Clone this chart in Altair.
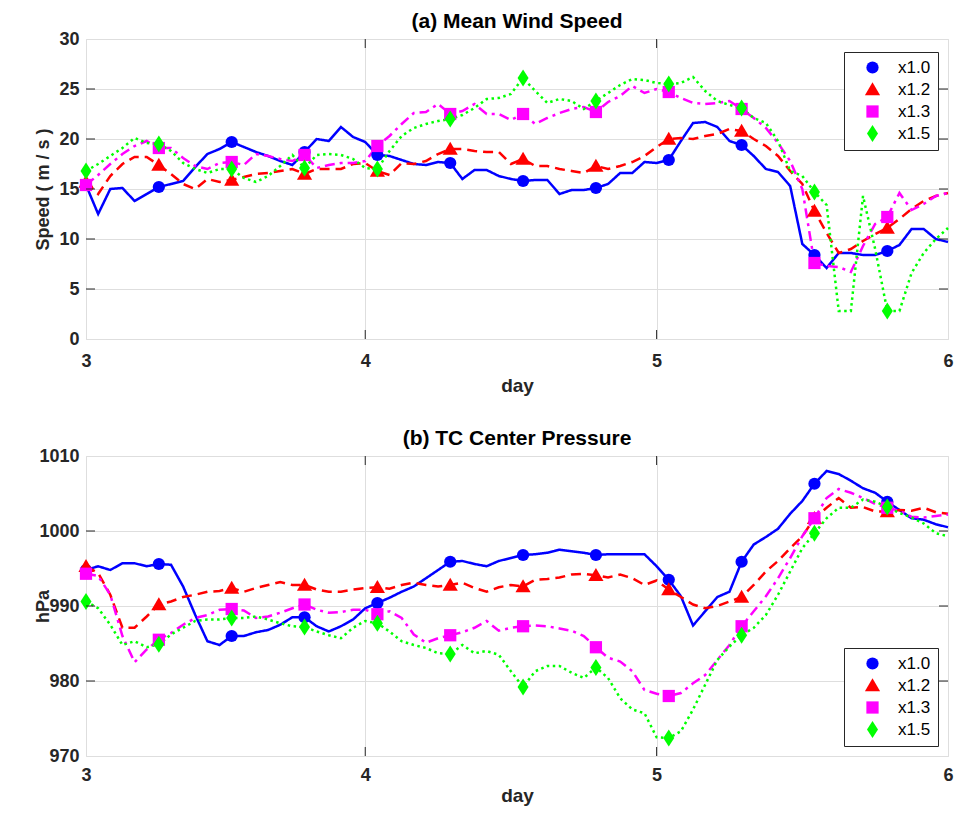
import altair as alt
import pandas as pd

# ---------------- data ----------------
HOURS = list(range(73, 145))          # hourly output, hour 73 .. 144 (day = hour / 24)
SERIES = ["x1.0", "x1.2", "x1.3", "x1.5"]
COLORS = ["#0000ff", "#ff0000", "#ff00ff", "#00ff00"]
SHAPES = ["circle", "M0,-1.2L1.24,0.95L-1.24,0.95Z", "square", "M0,-1.4L0.9,0L0,1.4L-0.9,0Z"]
DASHES = [[1, 0], [10, 6], [10, 5, 3, 5], [2.5, 3.5]]
MARK_EVERY = 6

X_TICKS = [73 / 24, 4, 5, 6]
WS_TICKS = [0, 5, 10, 15, 20, 25, 30]
PR_TICKS = [970, 980, 990, 1000, 1010]

# (a) mean wind speed (m/s)
WS_10 = [15.4, 12.5, 15.0, 15.1, 13.8, 14.5, 15.2, 15.5, 15.8, 17.2, 18.5, 19.0,
         19.7, 19.2, 18.7, 18.3, 17.8, 17.4, 18.7, 20.0, 19.8, 21.2, 20.2, 19.7,
         18.4, 18.3, 17.9, 17.5, 17.4, 17.7, 17.6, 16.0, 16.9, 16.9, 16.3, 16.0,
         15.8, 15.9, 15.9, 14.5, 14.9, 14.9, 15.1, 15.5, 16.6, 16.6, 17.7, 17.6,
         17.9, 19.8, 21.6, 21.7, 21.2, 19.8, 19.4, 18.3, 17.0, 16.7, 15.3, 9.5,
         8.4, 7.1, 8.6, 8.6, 8.4, 8.4, 8.8, 9.4, 11.0, 11.0, 10.0, 9.7]
WS_12 = [15.7, 14.5, 16.3, 17.5, 18.2, 18.2, 17.4, 16.5, 15.5, 15.0, 16.0, 15.7,
         15.9, 16.2, 16.5, 16.6, 16.8, 17.0, 16.5, 17.0, 17.0, 17.0, 17.5, 17.6,
         16.8, 16.4, 17.6, 17.5, 17.8, 18.5, 19.0, 19.0, 18.8, 18.7, 18.7, 17.5,
         18.0, 17.3, 17.3, 17.0, 16.8, 16.6, 17.3, 17.0, 17.3, 17.7, 18.3, 19.2,
         20.0, 20.1, 20.0, 20.3, 20.5, 21.0, 20.8, 20.0, 19.3, 18.3, 16.8, 15.5,
         12.8, 10.6, 8.6, 9.0, 9.8, 10.5, 11.1, 12.0, 13.0, 13.8, 14.3, 14.6]
WS_13 = [15.4, 16.4, 17.5, 18.5, 19.3, 19.8, 19.1, 19.1, 18.1, 17.3, 17.0, 17.6,
         17.7, 17.4, 18.5, 18.3, 18.0, 17.8, 18.4, 17.1, 17.4, 17.6, 17.6, 17.8,
         19.3, 20.3, 21.5, 22.6, 22.7, 23.5, 22.5, 22.8, 23.5, 22.5, 22.5, 21.9,
         22.5, 21.5, 22.1, 22.6, 23.0, 23.2, 22.7, 23.7, 24.3, 25.3, 24.6, 25.0,
         24.7, 24.1, 23.6, 23.5, 23.6, 23.8, 23.0, 22.1, 21.1, 19.6, 17.8, 15.0,
         7.6, 7.3, 7.2, 6.7, 9.3, 11.5, 12.2, 14.6, 12.9, 13.5, 14.3, 14.6]
WS_15 = [16.8, 17.5, 18.3, 19.1, 20.1, 19.6, 19.5, 18.8, 17.6, 17.0, 16.6, 17.0,
         17.0, 16.1, 15.7, 16.3, 17.3, 18.4, 17.1, 18.4, 18.5, 18.4, 18.0, 17.1,
         17.0, 18.8, 20.3, 21.1, 21.5, 21.8, 22.0, 22.4, 23.1, 24.0, 24.1, 24.5,
         26.1, 24.8, 23.6, 24.0, 23.8, 23.0, 23.8, 24.6, 25.4, 26.0, 25.9, 25.6,
         25.5, 25.6, 26.2, 24.8, 23.8, 23.4, 23.1, 22.1, 21.6, 19.8, 16.8, 16.3,
         14.7, 13.4, 2.8, 2.8, 14.3, 9.0, 2.8, 2.8, 6.6, 8.6, 10.0, 11.1]

# (b) TC center pressure (hPa)
PR_10 = [994.8, 995.3, 994.8, 995.7, 995.7, 995.3, 995.6, 995.5, 992.6, 988.8, 985.3, 984.8,
         986.0, 986.0, 986.5, 986.8, 987.5, 988.5, 988.5, 987.3, 986.6, 987.3, 988.2, 989.7,
         990.4, 991.1, 991.9, 992.6, 993.7, 994.8, 995.9, 996.0, 995.6, 995.3, 996.0, 996.4,
         996.8, 996.9, 997.1, 997.5, 997.3, 997.1, 996.8, 996.9, 996.9, 996.9, 996.9, 995.3,
         993.5, 991.3, 987.4, 989.3, 991.2, 991.9, 995.9, 998.2, 999.2, 1000.3, 1002.3, 1004.0,
         1006.3, 1008.0, 1007.6, 1006.7, 1005.7, 1005.1, 1003.9, 1002.8, 1001.7, 1001.5, 1000.9, 1000.5]
PR_12 = [995.3, 994.4, 991.5, 987.1, 987.1, 988.6, 990.2, 990.6, 991.2, 991.5, 991.9, 992.0,
         992.4, 991.9, 992.4, 992.8, 993.2, 992.8, 992.8, 992.2, 991.9, 991.9, 992.2, 992.4,
         992.5, 992.3, 992.8, 993.1, 992.8, 992.6, 992.8, 993.1, 992.4, 991.9, 992.5, 992.8,
         992.6, 993.5, 993.6, 993.8, 994.2, 994.3, 994.1, 993.8, 994.2, 993.7, 992.8, 993.4,
         992.2, 991.2, 990.2, 989.7, 990.0, 990.6, 991.2, 992.8, 994.6, 996.0, 997.7, 999.3,
         1001.7, 1003.1, 1004.4, 1003.1, 1003.2, 1002.6, 1002.6, 1002.8, 1002.7, 1003.1, 1002.5, 1002.3]
PR_13 = [994.3, 994.0, 991.5, 986.0, 982.5, 984.2, 985.5, 986.4, 987.5, 988.4, 988.8, 989.5,
         989.6, 989.4, 988.4, 988.6, 989.1, 989.7, 990.2, 989.5, 989.1, 989.2, 989.5, 989.5,
         988.9, 989.3, 988.4, 986.2, 985.1, 985.7, 986.1, 986.5, 987.1, 988.0, 986.7, 987.1,
         987.3, 987.4, 987.3, 987.0, 986.7, 986.0, 984.5, 983.1, 982.6, 981.3, 978.8, 978.3,
         978.0, 978.4, 979.7, 980.8, 982.8, 984.8, 987.3, 989.3, 991.3, 993.7, 996.4, 999.3,
         1001.7, 1004.4, 1005.6, 1005.1, 1004.4, 1003.6, 1003.1, 1002.7, 1001.9, 1001.8, 1002.0, 1002.2]
PR_15 = [990.6, 989.7, 987.5, 984.8, 985.3, 984.5, 984.9, 986.2, 987.1, 988.0, 988.2, 988.2,
         988.4, 988.4, 988.6, 988.2, 987.7, 987.3, 987.2, 986.6, 986.1, 985.7, 987.1, 988.0,
         987.7, 986.6, 985.3, 984.8, 984.4, 983.7, 983.6, 984.8, 983.7, 984.0, 983.5, 981.3,
         979.2, 981.3, 982.0, 982.0, 981.1, 980.4, 981.8, 980.4, 977.7, 976.2, 975.7, 972.5,
         972.4, 973.3, 976.2, 979.5, 982.8, 984.6, 986.1, 987.1, 988.8, 991.5, 994.6, 997.7,
         999.7, 1001.7, 1003.1, 1003.1, 1004.2, 1003.9, 1003.2, 1002.4, 1001.8, 1001.0, 999.7, 999.3]

# ---------------- style ----------------
FONT = "Liberation Sans"
INK = "#262626"
GRID = "#dedede"
W, H = 862, 300
MSIZE = 150


def long_table(series_values):
    rows = []
    for name, vals in zip(SERIES, series_values):
        for i, (h, v) in enumerate(zip(HOURS, vals)):
            rows.append({"day": h / 24, "value": v, "series": name,
                         "marker": i % MARK_EVERY == 0})
    return pd.DataFrame(rows)


def panel(df, ylo, yhi, yticks, ytitle, title, legend_y, label_pad, title_pad):
    xscale = alt.Scale(domain=[73 / 24, 6], nice=False, zero=False)
    yscale = alt.Scale(domain=[ylo, yhi], nice=False, zero=False)
    xaxis = alt.Axis(values=X_TICKS,
                     labelExpr="datum.value < 3.5 ? '3' : format(datum.value, 'd')",
                     title="day", grid=True, gridColor=GRID, domain=False, ticks=False,
                     labelFlush=False, labelPadding=label_pad, titlePadding=title_pad,
                     labelFontSize=18, titleFontSize=19, labelFontWeight="bold",
                     titleFontWeight="bold", labelColor=INK, titleColor=INK,
                     labelFont=FONT, titleFont=FONT)
    yaxis = alt.Axis(values=yticks, format="d", title=ytitle, grid=True, gridColor=GRID,
                     domain=False, ticks=False, labelPadding=7,
                     titleX=-34, titleY=H / 2,
                     labelFontSize=18, titleFontSize=18, labelFontWeight="bold",
                     titleFontWeight="bold", labelColor=INK, titleColor=INK,
                     labelFont=FONT, titleFont=FONT)
    X = alt.X("day:Q", scale=xscale, axis=xaxis)
    Y = alt.Y("value:Q", scale=yscale, axis=yaxis)

    legend = alt.Legend(orient="none", legendX=W - 104, legendY=legend_y, title=None,
                        fillColor="white", strokeColor=INK, padding=7,
                        symbolOffset=13, labelOffset=17, rowPadding=4,
                        symbolSize=MSIZE, symbolStrokeWidth=0,
                        labelFontSize=17, labelFont=FONT, labelColor="#000000")

    # one line layer per run (constant colour / dash, no legend)
    line_layers = [
        alt.Chart(df).transform_filter(alt.datum.series == name).mark_line(
            color=col, strokeDash=dash, strokeWidth=2.5).encode(x=X, y=Y)
        for name, col, dash in zip(SERIES, COLORS, DASHES)
    ]
    marks_df = df[df["marker"]].drop(columns=["marker"])
    points = alt.Chart(marks_df).mark_point(
        filled=True, opacity=1, strokeWidth=0, size=MSIZE).encode(
        x=X, y=Y,
        color=alt.Color("series:N", scale=alt.Scale(domain=SERIES, range=COLORS),
                        legend=legend),
        shape=alt.Shape("series:N", scale=alt.Scale(domain=SERIES, range=SHAPES),
                        legend=legend),
    )

    xt = pd.DataFrame({"day": X_TICKS[1:-1]})
    yt = pd.DataFrame({"value": yticks[1:-1]})
    tick_b = alt.Chart(xt).mark_rule(color=INK, strokeWidth=1).encode(
        x=X, y=alt.value(H), y2=alt.value(H - 9))
    tick_t = alt.Chart(xt).mark_rule(color=INK, strokeWidth=1).encode(
        x=X, y=alt.value(0), y2=alt.value(9))
    tick_l = alt.Chart(yt).mark_rule(color=INK, strokeWidth=1).encode(
        y=Y, x=alt.value(0), x2=alt.value(9))
    tick_r = alt.Chart(yt).mark_rule(color=INK, strokeWidth=1).encode(
        y=Y, x=alt.value(W - 9), x2=alt.value(W))

    return alt.layer(*line_layers, points, tick_b, tick_t, tick_l, tick_r).properties(
        width=W, height=H,
        title=alt.TitleParams(title, fontSize=21, fontWeight="bold", color="#000000",
                              font=FONT, offset=-2),
    )


df_a = long_table([WS_10, WS_12, WS_13, WS_15])
df_b = long_table([PR_10, PR_12, PR_13, PR_15])

pa = panel(df_a, 0, 30, WS_TICKS, "Speed ( m / s )", "(a) Mean Wind Speed", 13, 13, 6)
pb = panel(df_b, 970, 1010, PR_TICKS, "hPa", "(b) TC Center Pressure", 192, 10, 2)

chart = alt.vconcat(pa, pb, spacing=31).resolve_scale(
    color="independent", shape="independent"
).properties(
    padding={"left": 25, "top": 2, "right": 0, "bottom": 0},
    background="white",
).configure_view(stroke=INK, strokeWidth=1).configure(font=FONT)

chart.save("out.html", embed_options={"renderer": "svg", "actions": False})
